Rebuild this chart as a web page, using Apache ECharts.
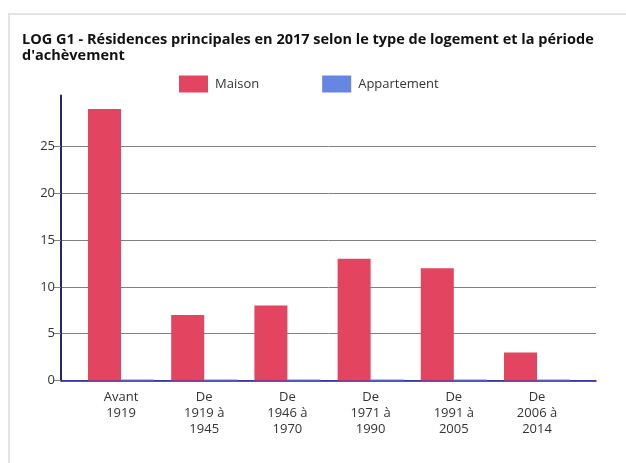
<!DOCTYPE html>
<html>
<head>
<meta charset="utf-8">
<script src="https://cdn.jsdelivr.net/npm/echarts@6/dist/echarts.min.js"></script>
<style>
html,body{margin:0;padding:0;background:#fff;}
#c{width:626px;height:463px;}
</style>
</head>
<body>
<div id="c"></div>
<script>
var titleText = "LOG G1 - Résidences principales en 2017 selon le type de logement et la période\nd'achèvement";
var categories = ["Avant\n1919", "De\n1919 à\n1945", "De\n1946 à\n1970", "De\n1971 à\n1990", "De\n1991 à\n2005", "De\n2006 à\n2014"];
var seriesNames = ["Maison", "Appartement"];
var maisonValues = [29, 7, 8, 13, 12, 3];
var appartementValues = [0, 0, 0, 0, 0, 0];
var yTicks = [0, 5, 10, 15, 20, 25];
var yMax = 30.45;

var chart = echarts.init(document.getElementById('c'), null, {renderer: 'canvas'});
var font = "'Open Sans', 'Noto Sans', sans-serif";
var option = {
  animation: false,
  textStyle: {fontFamily: font},
  graphic: [{
    type: 'rect', z: -10,
    shape: {x: 9, y: 14, width: 700, height: 500},
    style: {fill: 'none', stroke: '#e4e4e4', lineWidth: 2}
  }],
  title: {
    text: titleText, left: 22, top: 32, padding: 0,
    textStyle: {fontFamily: font, fontSize: 14.5, fontWeight: 'bold', color: '#111', lineHeight: 16}
  },
  legend: {
    left: 179, top: 75.5, padding: 0,
    itemWidth: 29, itemHeight: 17, itemGap: 63,
    icon: 'rect',
    textStyle: {fontFamily: font, fontSize: 13, color: '#333', padding: [0,0,0,2]},
    data: seriesNames
  },
  grid: [
    {left: 61, right: 30, top: 95.5, bottom: 82.5},
    {left: 79.4, right: 47.4, top: 95.5, bottom: 82.5}
  ],
  xAxis: [
    {gridIndex: 0, type: 'value', min: 0, max: 1,
     axisLine: {show: true, lineStyle: {color: '#1c1cb0', width: 1.5}},
     axisTick: {show: false}, axisLabel: {show: false}, splitLine: {show: false}},
    {gridIndex: 1, type: 'category', data: categories,
     axisLine: {show: false}, axisTick: {show: false},
     axisLabel: {fontFamily: font, fontSize: 13, color: '#333', lineHeight: 16, margin: 9, interval: 0}}
  ],
  yAxis: [
    {gridIndex: 0, type: 'value', min: 0, max: yMax,
     axisLine: {show: true, lineStyle: {color: '#25256e', width: 2}},
     axisTick: {show: true, length: 7, customValues: yTicks, lineStyle: {color: '#808080'}},
     axisLabel: {fontFamily: font, fontSize: 13, color: '#333', margin: 6, customValues: yTicks},
     splitLine: {show: true, lineStyle: {color: '#808080', width: 1}}},
    {gridIndex: 1, type: 'value', min: 0, max: yMax, show: false}
  ],
  series: [
    {name: seriesNames[0], type: 'bar', xAxisIndex: 1, yAxisIndex: 1, data: maisonValues,
     barWidth: 33, barGap: '0%', itemStyle: {color: '#e3445f'}},
    {name: seriesNames[1], type: 'bar', xAxisIndex: 1, yAxisIndex: 1, data: appartementValues,
     barWidth: 33, barGap: '0%', barMinHeight: 1, itemStyle: {color: '#6686e3'}}
  ]
};
chart.setOption(option);
</script>
</body>
</html>
